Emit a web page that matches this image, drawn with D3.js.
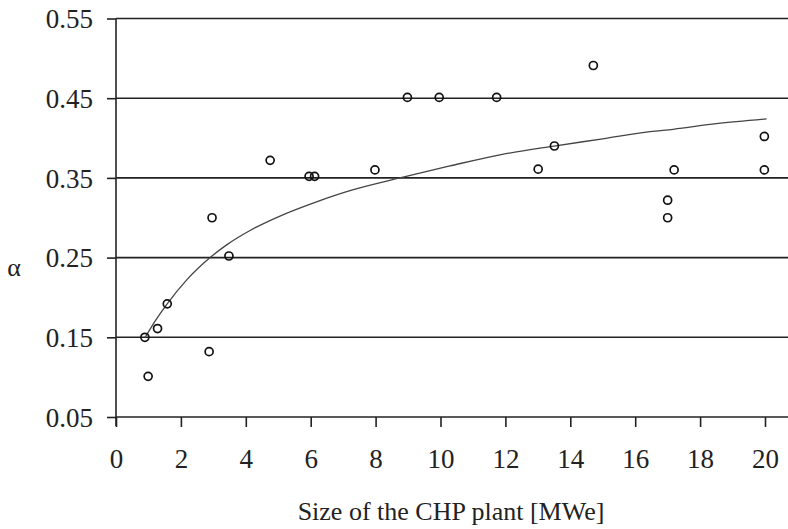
<!DOCTYPE html>
<html>
<head>
<meta charset="utf-8">
<script src="https://cdn.jsdelivr.net/npm/d3@7"></script>
<style>
  html, body { margin: 0; padding: 0; background: #fff; }
  svg text { font-family: "Liberation Serif", "Times New Roman", serif; fill: #222; }
</style>
</head>
<body>
<svg id="chart" width="788" height="529"></svg>
<script>
// Observed data points (size in MWe, alpha)
const sizeMWe = [0.89, 0.99, 1.28, 1.58, 2.87, 2.96, 3.48, 4.75, 5.95, 6.12, 7.98, 8.98, 9.96, 11.73, 13.01, 13.51, 14.71, 17.0, 17.0, 17.2, 19.98, 19.98];
const alphaVal = [0.150, 0.101, 0.161, 0.192, 0.132, 0.300, 0.252, 0.372, 0.352, 0.352, 0.360, 0.451, 0.451, 0.451, 0.361, 0.390, 0.491, 0.322, 0.300, 0.360, 0.402, 0.360];

// Trend curve
const trendX = [0.9, 1.2, 1.56, 2.18, 2.9, 3.41, 4.13, 5.16, 6.18, 7.21, 8.75, 10.29, 11.83, 13.5, 15.0, 16.46, 17.17, 18.5, 20.05];
const trendY = [0.150, 0.170, 0.191, 0.222, 0.250, 0.266, 0.284, 0.304, 0.320, 0.334, 0.350, 0.365, 0.379, 0.390, 0.399, 0.408, 0.411, 0.418, 0.424];

const xTicks = [0, 2, 4, 6, 8, 10, 12, 14, 16, 18, 20];
const yTicks = [0.05, 0.15, 0.25, 0.35, 0.45, 0.55];

const serif = "'Liberation Serif', 'Times New Roman', serif";
const svg = d3.select("#chart");
const plotLeft = 116, plotRight = 788, plotTop = 18.5, plotBottom = 417;

const x = d3.scaleLinear().domain([0, 20]).range([plotLeft, 765]);
const y = d3.scaleLinear().domain([0.05, 0.55]).range([plotBottom, plotTop]);

// horizontal gridlines
svg.append("g").selectAll("line").data(yTicks).join("line")
  .attr("x1", plotLeft).attr("x2", plotRight)
  .attr("y1", d => y(d)).attr("y2", d => y(d))
  .attr("stroke", "#222").attr("stroke-width", 1.6);

// y axis
const yAxis = d3.axisLeft(y).tickValues(yTicks).tickFormat(d3.format(".2f")).tickSize(9).tickPadding(14);
const gy = svg.append("g").attr("transform", `translate(${plotLeft},0)`).call(yAxis)
  .attr("font-family", serif).attr("font-size", 27);
gy.select(".domain").attr("stroke", "#222").attr("stroke-width", 1.6).attr("d", `M0,${plotTop}V${plotBottom + 9}`);
gy.selectAll(".tick line").attr("stroke", "#222").attr("stroke-width", 1.6);
gy.selectAll(".tick text").attr("fill", "#222").attr("dy", "0.34em");

// x axis
const xAxis = d3.axisBottom(x).tickValues(xTicks).tickFormat(d3.format("d")).tickSize(10).tickPadding(22);
const gx = svg.append("g").attr("transform", `translate(0,${plotBottom})`).call(xAxis)
  .attr("font-family", serif).attr("font-size", 27);
gx.select(".domain").remove();
gx.selectAll(".tick line").attr("stroke", "#222").attr("stroke-width", 1.6);
gx.selectAll(".tick text").attr("fill", "#222");

// trend curve
const line = d3.line().x(d => x(d[0])).y(d => y(d[1])).curve(d3.curveMonotoneX);
svg.append("path").datum(d3.zip(trendX, trendY))
  .attr("d", line).attr("fill", "none").attr("stroke", "#444").attr("stroke-width", 1.3);

// points
svg.append("g").selectAll("circle").data(d3.zip(sizeMWe, alphaVal)).join("circle")
  .attr("cx", d => x(d[0])).attr("cy", d => y(d[1])).attr("r", 4)
  .attr("fill", "none").attr("stroke", "#111").attr("stroke-width", 1.7);

// axis titles
svg.append("text").attr("x", 451).attr("y", 520).attr("text-anchor", "middle")
  .attr("font-family", serif).attr("font-size", 26).text("Size of the CHP plant [MWe]");
svg.append("text").attr("x", 14).attr("y", 276).attr("text-anchor", "middle")
  .attr("font-family", serif).attr("font-size", 26).text("α");
</script>
</body>
</html>
